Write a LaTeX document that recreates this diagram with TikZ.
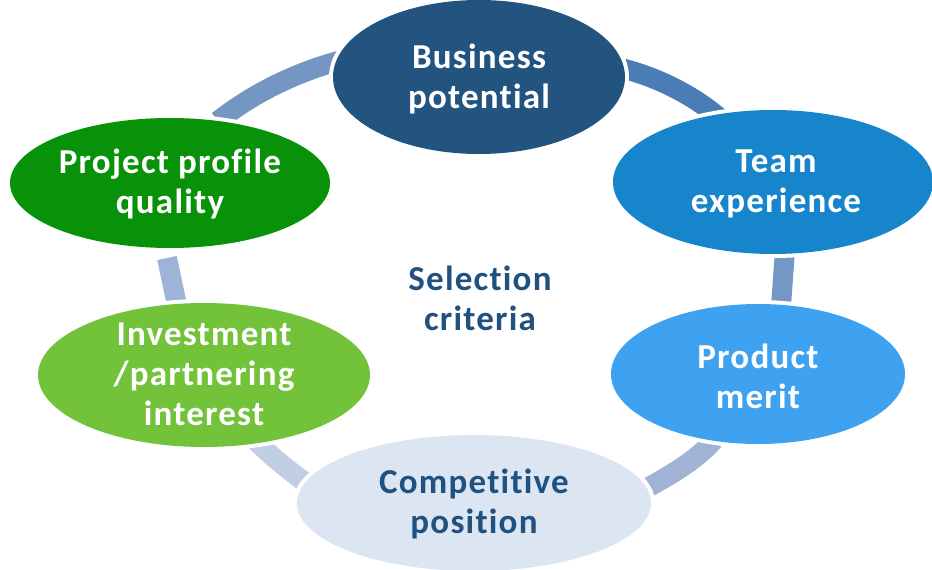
\documentclass[tikz,border=0pt]{standalone}
\usepackage{fontspec}
\setmainfont{Carlito}[Ligatures=CommonOff, LetterSpace=3.5]
\usetikzlibrary{shapes.geometric}
\definecolor{cBus}{RGB}{35,84,128}
\definecolor{cTeam}{RGB}{22,133,204}
\definecolor{cProd}{RGB}{63,162,240}
\definecolor{cComp}{RGB}{220,230,242}
\definecolor{cInv}{RGB}{114,194,58}
\definecolor{cProj}{RGB}{7,146,10}
\definecolor{cText}{RGB}{33,82,127}
\definecolor{aTL}{RGB}{116,150,195}
\definecolor{aTR}{RGB}{74,124,183}
\definecolor{aR}{RGB}{117,151,197}
\definecolor{aL}{RGB}{157,180,214}
\definecolor{aBL}{RGB}{194,206,227}
\definecolor{aBR}{RGB}{160,179,212}
\tikzset{
  blob/.style={ellipse, inner sep=0pt, fill=#1, preaction={draw=white, line width=8pt}},
  lbl/.style={align=center, font=\fontsize{35}{40}\selectfont\bfseries, text=white, inner sep=0pt},
  ring/.style={line width=20pt, draw=#1}
}
\begin{document}
\begin{tikzpicture}[x=1pt,y=-1pt]
\useasboundingbox (0,0) rectangle (932,570);
% ring segments
\coordinate (a1) at (218,121); \coordinate (a2) at (350,58);
\coordinate (b1) at (612,66);  \coordinate (b2) at (722,120);
\coordinate (c1) at (785,250); \coordinate (c2) at (781,306);
\coordinate (d1) at (167,258); \coordinate (d2) at (178,310);
\coordinate (e1) at (255,440); \coordinate (e2) at (312,487);
\coordinate (f1) at (640,492); \coordinate (f2) at (714,440);
\draw[ring=aTL] (a1) .. controls (255,92) and (300,70) .. (a2);
\draw[ring=aTR] (b1) .. controls (650,74) and (690,92) .. (b2);
\draw[ring=aR] (c1) -- (c2);
\draw[ring=aL] (d1) -- (d2);
\draw[ring=aBL] (e1) .. controls (270,455) and (290,472) .. (e2);
\draw[ring=aBR] (f1) .. controls (665,478) and (695,462) .. (f2);
% ellipses
\node[blob=cBus,  minimum width=292pt, minimum height=154pt] (bus)  at (479,77) {};
\node[blob=cTeam, minimum width=320pt, minimum height=144pt] (team) at (773,182) {};
\node[blob=cProd, minimum width=294pt, minimum height=140pt] (prod) at (758,374) {};
\node[blob=cComp, minimum width=354pt, minimum height=136pt] (comp) at (474,503) {};
\node[blob=cInv,  minimum width=332pt, minimum height=144pt] (inv)  at (204,375) {};
\node[blob=cProj, minimum width=320pt, minimum height=130pt] (proj) at (170,183) {};
% labels
\node[lbl] (tbus)  at (479,79) {Business\\potential};
\node[lbl] (tteam) at (776,184) {Team\\experience};
\node[lbl] (tprod) at (758,376) {Product\\merit};
\node[lbl, text=cText] (tcomp) at (474,504) {Competitive\\position};
\node[lbl] (tinv)  at (204,374) {Investment\\/partnering\\interest};
\node[lbl] (tproj) at (170,184) {Project profile\\quality};
\node[lbl, text=cText] (tsel) at (480,298) {Selection\\criteria};
\end{tikzpicture}
\end{document}
